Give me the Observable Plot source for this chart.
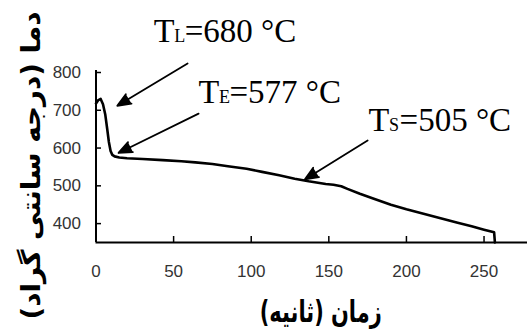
<!DOCTYPE html>
<html><head><meta charset="utf-8">
<script src="https://cdn.jsdelivr.net/npm/d3@7"></script>
<script src="https://cdn.jsdelivr.net/npm/@observablehq/plot@0.6"></script>
<style>html,body{margin:0;padding:0;background:#fff;}</style>
</head><body><div id="chart"></div>
<script>
// cooling curve (time in s, temperature in °C)
const time = [0, 1.5, 3, 4.5, 6, 7.2, 8.3, 9.4, 10.5, 12, 15, 20, 30, 43, 55, 64, 75, 85, 97, 107, 118, 128, 137, 143, 148, 153, 158, 162, 170, 179, 190, 200, 211, 222, 233, 242, 250, 256.5, 257];
const temp = [718, 727, 730, 716, 688, 651, 616, 592, 582, 578, 575, 573, 571, 568, 565, 562, 558, 552, 545, 537, 528, 519, 512, 508, 505, 503, 499, 492, 479, 466, 450, 438, 426, 414, 402, 393, 384, 377, 350];

const xTicks = [0, 50, 100, 150, 200, 250];
const yTicks = [400, 500, 600, 700, 800];
const xLabel = "زمان (ثانیه)";
const yLabel = "دما (درجه سانتی گراد)";

// annotations: T + subscript + rest
const annBase = ["T", "T", "T"];
const annSub = ["L", "E", "S"];
const annRest = ["=680 °C", "=577 °C", "=505 °C"];
const annT = [37.2, 66.0, 175.6];
const annTemp = [880, 718, 644];

// arrows
const arrowT1 = [59, 66.1, 175];
const arrowTemp1 = [824, 691, 620];
const arrowT2 = [13.7, 14.5, 134.5];
const arrowTemp2 = [712, 587, 517];

const curve = time.map((t, i) => ({t, T: temp[i]}));
const anns = annBase.map((b, i) => ({base: b, sub: annSub[i], rest: annRest[i], x: annT[i], y: annTemp[i]}));
const arrows = arrowT1.map((t, i) => ({x1: t, y1: arrowTemp1[i], x2: arrowT2[i], y2: arrowTemp2[i]}));

const serif = {textAnchor: "start", lineAnchor: "bottom", fontFamily: "Liberation Serif", fill: "black"};

const plot = Plot.plot({
  width: 527,
  height: 333,
  marginLeft: 95.5,
  marginRight: 0,
  marginTop: 72,
  marginBottom: 91,
  style: {fontFamily: "Liberation Sans", background: "#fff", color: "black", overflow: "visible"},
  x: {domain: [0, 278]},
  y: {domain: [350, 800]},
  marks: [
    Plot.axisX({ticks: xTicks, tickSize: 0, tickPadding: 22, label: null, fontSize: 17, color: "#333"}),
    Plot.axisY({ticks: yTicks, tickSize: 0, tickPadding: 15, label: null, fontSize: 17, color: "#333"}),
    Plot.tickX(xTicks.slice(1), {x: d => d, insetTop: 164, stroke: "black", strokeWidth: 1.5}),
    Plot.tickY(yTicks, {y: d => d, insetRight: 426, stroke: "black", strokeWidth: 1.5}),
    Plot.ruleY([350], {stroke: "black", strokeWidth: 2}),
    Plot.ruleX([0], {y1: 350, y2: 805, stroke: "black", strokeWidth: 2}),
    Plot.line(curve, {x: "t", y: "T", stroke: "black", strokeWidth: 2.6, strokeLinejoin: "round"}),
    Plot.arrow(arrows, {x1: "x1", y1: "y1", x2: "x2", y2: "y2", stroke: "black", fill: "black", strokeWidth: 1.8, headLength: 12, headAngle: 45}),
    Plot.text(anns, {...serif, x: "x", y: "y", text: "base", fontSize: 34}),
    Plot.text(anns, {...serif, x: "x", y: "y", text: "sub", dx: 20.5, fontSize: 18}),
    Plot.text(anns, {...serif, x: "x", y: "y", text: "rest", dx: 31, fontSize: 33}),
    Plot.text([yLabel], {frameAnchor: "left", text: d => d, rotate: -90, dx: -64, dy: 8, lineAnchor: "middle", textAnchor: "middle", fontFamily: "DejaVu Sans", fontWeight: "bold", fontSize: 26, fill: "black"}),
    Plot.text([xLabel], {frameAnchor: "bottom", text: d => d, dx: 9, dy: 70, lineAnchor: "middle", textAnchor: "middle", fontFamily: "DejaVu Sans", fontWeight: "bold", fontSize: 30, fill: "black"})
  ]
});
document.getElementById("chart").appendChild(plot);

// Persian labels: right-to-left direction and horizontal fit
plot.querySelectorAll("text").forEach(el => {
  const s = el.textContent;
  if (s === xLabel || s === yLabel) {
    el.setAttribute("direction", "rtl");
    el.style.direction = "rtl";
    const target = s === xLabel ? 122 : 308;
    const natural = el.getComputedTextLength();
    const k = target / natural;
    let tr = el.getAttribute("transform");
    if (!tr) {
      const x = +el.getAttribute("x") || 0, y = +el.getAttribute("y") || 0;
      el.removeAttribute("x");
      tr = `translate(${x},${y})`;
    }
    el.setAttribute("transform", `${tr} scale(${k},1)`);
  }
});
</script>
</body></html>
